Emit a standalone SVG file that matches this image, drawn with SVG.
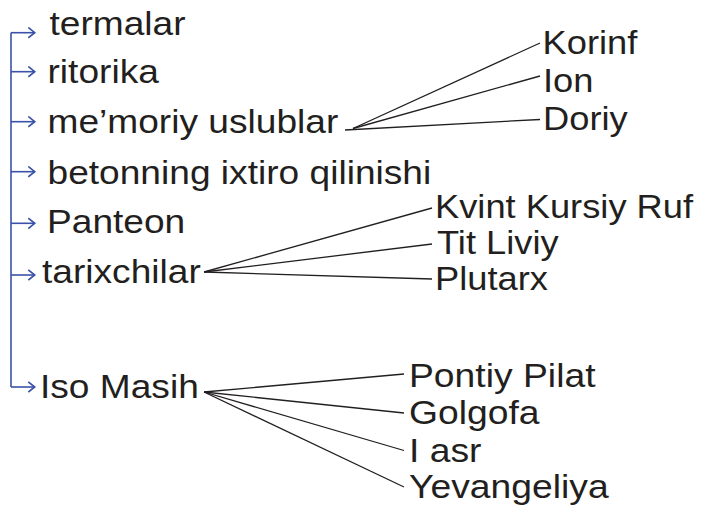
<svg xmlns="http://www.w3.org/2000/svg" width="716" height="506" viewBox="0 0 716 506">
  <style>
    .t { font-family: "Liberation Sans", Arial, sans-serif; font-size: 33px; fill: #231f20; }
    .blue { stroke: #3a52a8; stroke-width: 1.6; fill: none; }
    .blk { stroke: #231f20; stroke-width: 1.3; fill: none; }
  </style>
  <defs>
    <marker id="chev" markerUnits="userSpaceOnUse" markerWidth="12" markerHeight="14" refX="7.5" refY="6" orient="auto">
      <path d="M0.8,0.8 L7.2,6 L0.8,11.2" fill="none" stroke="#3a52a8" stroke-width="1.7"/>
    </marker>
  </defs>
  <rect width="716" height="506" fill="#ffffff"/>

  <g id="connectors">
    <!-- blue tree -->
    <path class="blue" d="M11,32.7 V387"/>
    <path class="blue" marker-end="url(#chev)" d="M11,32.7 H35"/>
    <path class="blue" marker-end="url(#chev)" d="M11,71.7 H35"/>
    <path class="blue" marker-end="url(#chev)" d="M11,121.7 H35"/>
    <path class="blue" marker-end="url(#chev)" d="M11,171.7 H35"/>
    <path class="blue" marker-end="url(#chev)" d="M11,223.3 H35"/>
    <path class="blue" marker-end="url(#chev)" d="M11,275 H35"/>
    <path class="blue" marker-end="url(#chev)" d="M11,387 H35"/>
    <!-- me'moriy uslublar -->
    <path class="blk" d="M353,128.5 L540,43"/>
    <path class="blk" d="M353,128.5 L540,76"/>
    <path class="blk" d="M345,130 L540,119.5"/>
    <!-- tarixchilar -->
    <path class="blk" d="M204,272 L432,208"/>
    <path class="blk" d="M204,272 L432,244"/>
    <path class="blk" d="M204,272 L432,279"/>
    <!-- Iso Masih -->
    <path class="blk" d="M204,392 L404,374"/>
    <path class="blk" d="M204,392 L404,413"/>
    <path class="blk" d="M204,392 L404,450.5"/>
    <path class="blk" d="M204,392 L404,487"/>
  </g>

  <g id="n-termalar"><text class="t" transform="translate(49.5,35) scale(1.125,1)">termalar</text></g>
  <g id="n-ritorika"><text class="t" transform="translate(47.5,83) scale(1.125,1)">ritorika</text></g>
  <g id="n-memoriy"><text class="t" transform="translate(47.5,133) scale(1.125,1)">me’moriy uslublar</text></g>
  <g id="n-betonning"><text class="t" transform="translate(47.5,184) scale(1.125,1)">betonning ixtiro qilinishi</text></g>
  <g id="n-panteon"><text class="t" transform="translate(47,233) scale(1.125,1)">Panteon</text></g>
  <g id="n-tarixchilar"><text class="t" transform="translate(42,282.5) scale(1.125,1)">tarixchilar</text></g>
  <g id="n-iso"><text class="t" transform="translate(40,398) scale(1.125,1)">Iso Masih</text></g>

  <g id="n-korinf"><text class="t" transform="translate(542.5,54) scale(1.1,1)">Korinf</text></g>
  <g id="n-ion"><text class="t" transform="translate(543,92) scale(1.1,1)">Ion</text></g>
  <g id="n-doriy"><text class="t" transform="translate(543,130) scale(1.1,1)">Doriy</text></g>

  <g id="n-kvint"><text class="t" transform="translate(435,218) scale(1.1,1)">Kvint Kursiy Ruf</text></g>
  <g id="n-tit"><text class="t" transform="translate(437,254) scale(1.1,1)">Tit Liviy</text></g>
  <g id="n-plutarx"><text class="t" transform="translate(435,290) scale(1.1,1)">Plutarx</text></g>

  <g id="n-pontiy"><text class="t" transform="translate(409,386.5) scale(1.13,1)">Pontiy Pilat</text></g>
  <g id="n-golgofa"><text class="t" transform="translate(409,424) scale(1.13,1)">Golgofa</text></g>
  <g id="n-iasr"><text class="t" transform="translate(409,461.5) scale(1.13,1)">I asr</text></g>
  <g id="n-yevangeliya"><text class="t" transform="translate(409,498) scale(1.13,1)">Yevangeliya</text></g>
</svg>
